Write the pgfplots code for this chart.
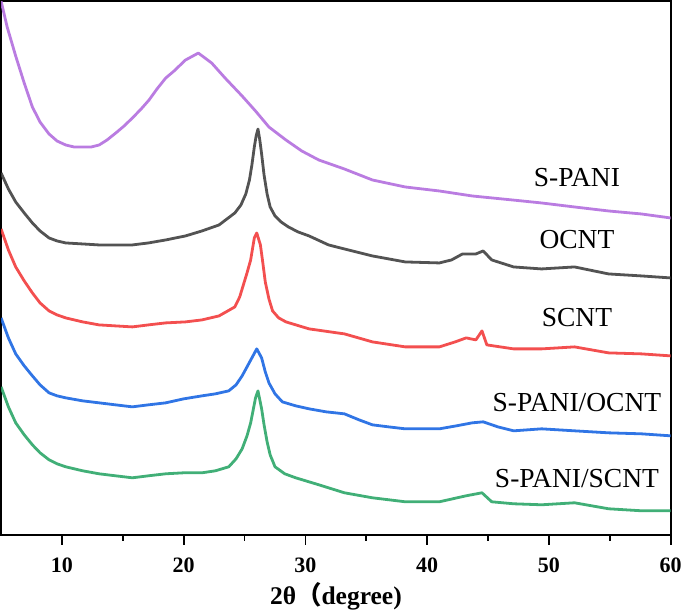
\documentclass[border=0pt]{standalone}
\usepackage{pgfplots}
\pgfplotsset{compat=1.18}
\usepackage{fontspec}
\setmainfont{Liberation Serif}
\newfontfamily\cjk{Noto Sans CJK SC}
\definecolor{cPur}{RGB}{178,110,222}
\definecolor{cBlk}{RGB}{64,64,64}
\definecolor{cRed}{RGB}{242,60,60}
\definecolor{cBlu}{RGB}{26,102,226}
\definecolor{cGrn}{RGB}{44,166,104}
\begin{document}
\begin{tikzpicture}
\begin{axis}[
  scale only axis, width=670pt, height=534pt,
  xmin=5, xmax=60, ymin=0, ymax=534,
  axis line style={line width=2.2pt},
  xtick={10,20,30,40,50,60},
  minor xtick={15,25,35,45,55},
  ytick=\empty,
  tick align=outside,
  xtick pos=bottom,
  major tick length=10pt, minor tick length=6pt,
  every tick/.style={line width=1.8pt, black},
  /pgf/number format/assume math mode=true,
  tick label style={font=\fontsize{22}{22}\selectfont\bfseries},
  xticklabel style={yshift=-10pt},
  xlabel={2θ{\cjk （}degree)},
  xlabel style={font=\fontsize{25.5}{25.5}\selectfont\bfseries, yshift=-3pt},
  every axis plot/.append style={line width=2.8pt, line join=round, opacity=0.9},
  clip=true,
]
\addplot[cPur] coordinates {
(5.0,534)(5.5,508)(6.2,479)(6.9,452)(7.57,428)(8.2,413)(8.94,401)(9.6,394)(10.31,390)(11.0,388)(11.67,388)(12.4,388)(13.05,390)(13.7,395)(14.42,402)
(15.1,409)(15.78,417)(16.5,426)(17.15,435)(17.8,446)(18.52,457)(19.2,464)(20.14,475)(21.2,482)(22.3,472)(23.4,457)
(24.8,439)(25.9,424)(27.0,408)(28.4,395)(29.7,384)(31.1,375)(33.2,366)(35.5,355)
(38.2,348)(41.0,344)(43.7,339)(47.0,335)(49.4,332)(52.1,328)(54.9,324)(57.6,321)(60,317)};
\addplot[cBlk] coordinates {
(5.0,362)(5.6,346)(6.2,333)(6.9,322)(7.57,312)(8.2,304)(8.94,297)(9.6,294)(10.31,292)(11.7,291)(13.05,290)(14.4,290)(15.78,290)(17.1,292)(18.52,295)
(20.14,299)(21.5,304)(22.9,310)(24.2,322)(24.7,330)(25.1,341)(25.4,355)(25.6,370)(25.8,388)(25.95,399)(26.1,406)
(26.25,395)(26.4,381)(26.6,360)(26.85,341)(27.1,328)(27.5,319)(28.0,313)(28.6,308)(29.4,303)(30.3,299)(31.9,290)(33.2,286)(35.5,279)
(38.2,273)(41.0,272)(42.0,275)(42.9,281)(44.0,281)(44.6,284)(45.3,275)(47.1,268)
(49.4,266)(52.1,268)(54.9,261)(57.6,259)(60,257)};
\addplot[cRed] coordinates {
(5.0,306)(5.6,285)(6.2,268)(6.9,254)(7.57,242)(8.2,232)(8.94,224)(9.6,220)(10.31,217)(11.7,213)(13.05,210)(14.4,209)(15.78,208)(17.1,210)(18.52,212)
(20.14,213)(21.5,215)(22.9,219)(24.2,228)(24.6,238)(24.9,250)(25.2,262)(25.5,275)(25.8,297)(26.0,302)
(26.3,290)(26.5,272)(26.7,253)(27.0,236)(27.3,224)(27.8,217)(28.4,213)(30.3,206)(33.2,201)(35.5,193)(38.2,188)
(41.0,188)(42.3,193)(43.2,197)(44.0,195)(44.5,204)(44.9,190)(47.1,186)(49.4,186)
(52.1,188)(54.9,182)(57.6,181)(60,179)};
\addplot[cBlu] coordinates {
(5.0,217)(5.6,197)(6.2,181)(6.9,169)(7.57,159)(8.2,150)(8.94,142)(9.6,139)(10.31,137)(11.7,134)(13.05,132)(14.4,130)(15.78,128)(17.1,130)(18.52,132)
(20.0,136)(21.5,139)(22.6,141)(23.7,144)(24.3,150)(24.8,159)(25.2,168)(25.6,177)(26.0,186)(26.4,177)(26.7,163)(27.0,152)(27.5,141)(28.1,133)
(29.2,129)(30.3,126)(31.7,123)(33.2,121)(34.4,115)(35.5,110)(36.8,108)(38.2,106)(41.0,106)(42.4,109)(43.7,112)(44.6,113)(45.8,108)(47.1,104)
(49.4,106)(52.1,104)(54.9,102)(57.6,101)(60,99)};
\addplot[cGrn] coordinates {
(5.0,148)(5.6,128)(6.2,112)(6.9,100)(7.57,90)(8.2,82)(8.94,75)(9.6,71)(10.31,68)(11.7,64)(13.05,61)(14.4,59)(15.78,57)(17.1,59)(18.52,61)
(20.0,62)(21.5,62)(22.6,64)(23.7,68)(24.3,76)(24.8,86)(25.2,99)(25.5,112)(25.9,137)(26.1,144)(26.4,126)(26.6,110)(26.85,93)
(27.1,80)(27.5,68)(28.3,61)(29.2,57)(31.1,50)(33.2,42)(35.5,37)(38.2,33)(41.0,33)(43.2,39)(44.5,42)
(45.3,33)(47.1,31)(49.4,30)(52.1,32)(54.9,26)(57.6,24)(60,24)};
\node[font=\fontsize{27.5}{27.5}\selectfont] at (axis cs:52.3,357) {S-PANI};
\node[font=\fontsize{27.5}{27.5}\selectfont] at (axis cs:52.3,295) {OCNT};
\node[font=\fontsize{27.5}{27.5}\selectfont] at (axis cs:52.3,217) {SCNT};
\node[font=\fontsize{27.5}{27.5}\selectfont] at (axis cs:52.3,132) {S-PANI/OCNT};
\node[font=\fontsize{27.5}{27.5}\selectfont] at (axis cs:52.3,56) {S-PANI/SCNT};
\end{axis}
\end{tikzpicture}
\end{document}
